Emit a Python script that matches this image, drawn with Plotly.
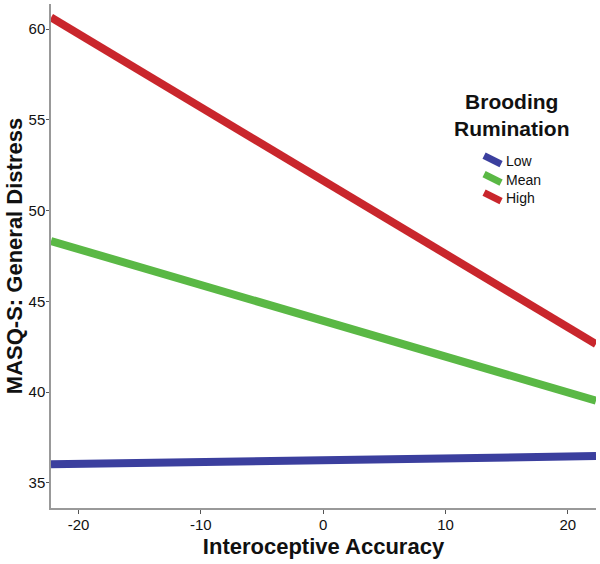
import plotly.graph_objects as go

# Data
x_ends = [-22.25, 22.3]
groups = ["Low", "Mean", "High"]
values = {
    "Low": [36.03, 36.48],
    "Mean": [48.33, 39.53],
    "High": [60.65, 42.65],
}
colors = {"Low": "#3b3f9e", "Mean": "#5ab845", "High": "#c9262c"}
x_ticks = [-20, -10, 0, 10, 20]
x_tick_labels = ["-20", "-10", "0", "10", "20"]
y_ticks = [35, 40, 45, 50, 55, 60]
y_tick_labels = ["35", "40", "45", "50", "55", "60"]

fig = go.Figure()
for g in groups:
    fig.add_trace(go.Scatter(x=x_ends, y=values[g], mode="lines",
                             line=dict(color=colors[g], width=8),
                             name=g, showlegend=False))

font_family = "Liberation Sans, Arial, sans-serif"

PX_L, PX_R, PX_T, PX_B = 50.7, 596.0, 4.0, 507.7


def px2paper_x(px):
    return (px - PX_L) / (PX_R - PX_L)


def px2paper_y(py):
    return 1 - (py - PX_T) / (PX_B - PX_T)


# custom legend
fig.add_annotation(xref="paper", yref="paper", x=px2paper_x(512), y=px2paper_y(115),
                   xanchor="center", yanchor="middle",
                   text="<b>Brooding<br>Rumination</b>", showarrow=False,
                   font=dict(size=21, family=font_family, color="#111"), align="center")
item_y0 = 160
for i, g in enumerate(groups):
    yc = item_y0 + i * 18.5
    fig.add_shape(type="line", xref="paper", yref="paper",
                  x0=px2paper_x(484), y0=px2paper_y(yc - 4.5),
                  x1=px2paper_x(501), y1=px2paper_y(yc + 4),
                  line=dict(color=colors[g], width=7), layer="above")
    fig.add_annotation(xref="paper", yref="paper", x=px2paper_x(504), y=px2paper_y(yc + 1),
                       xanchor="left", yanchor="middle", text=g, showarrow=False,
                       font=dict(size=14, family=font_family, color="#111"))

fig.update_layout(
    width=600, height=564,
    margin=dict(l=51, r=4, t=4, b=56),
    paper_bgcolor="white", plot_bgcolor="white",
    font=dict(family=font_family, color="#111"),
    xaxis=dict(range=[-22.25, 22.3], tickvals=x_ticks, ticktext=x_tick_labels,
               ticks="outside", ticklen=4, ticklabelstandoff=-2,
               tickcolor="#555", showline=True, linecolor="#999", linewidth=1.5,
               showgrid=False, zeroline=False, tickfont=dict(size=15, color="#111"),
               title=dict(text="<b>Interoceptive Accuracy</b>", font=dict(size=22), standoff=7)),
    yaxis=dict(range=[33.62, 61.39], tickvals=y_ticks, ticktext=y_tick_labels,
               ticks="outside", ticklen=3, ticklabelstandoff=-2,
               tickcolor="#555", showline=True, linecolor="#999", linewidth=1.5,
               showgrid=False, zeroline=False, tickfont=dict(size=15, color="#111"),
               title=dict(text="<b>MASQ-S: General Distress</b>", font=dict(size=22), standoff=0)),
)

fig.write_html("out.html", config={"displayModeBar": False},
               post_script="document.body.style.margin='0';")
